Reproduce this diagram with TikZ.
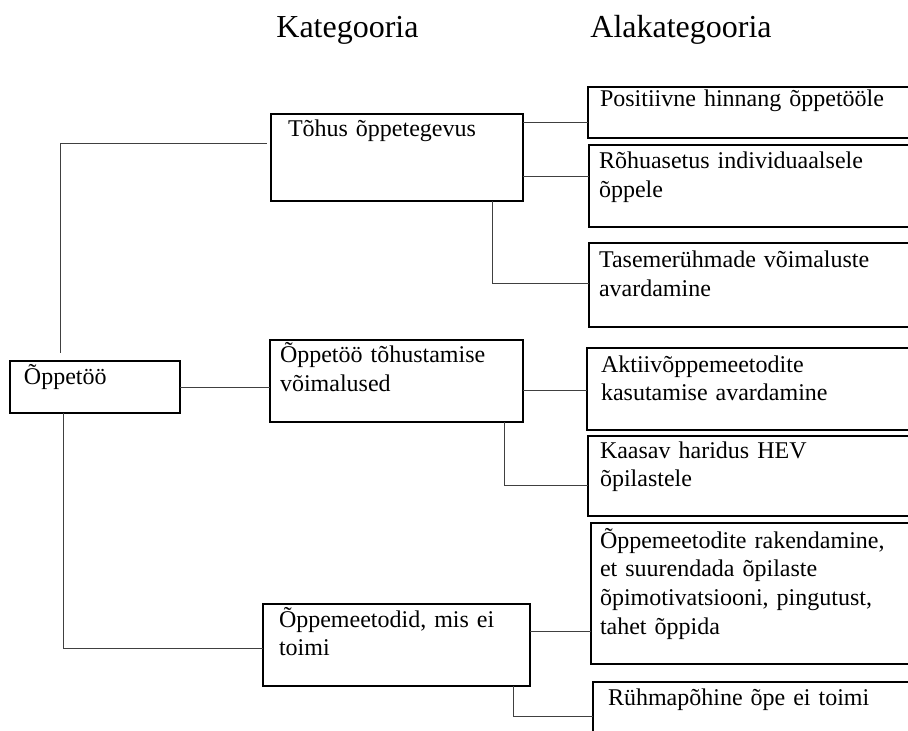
\documentclass[tikz,border=0pt]{standalone}
\usepackage{fontspec}
\setmainfont{Liberation Serif}
\usetikzlibrary{calc}
\begin{document}
\begin{tikzpicture}[x=0.5pt,y=-0.5pt,
  box/.style={draw=black, line width=0.75pt, anchor=north west, inner sep=0pt, outer sep=0pt},
  txt/.style={anchor=base west, inner sep=0pt, outer sep=0pt, align=left,
    text width=170pt, font=\fontsize{12}{14.4}\selectfont},
  head/.style={anchor=base west, inner sep=0pt, font=\fontsize{16}{19}\selectfont},
  conn/.style={draw=black!75, line width=0.5pt}]
\useasboundingbox (0,0) rectangle (908,731);
\clip (0,0) rectangle (908,731);
\fill[white] (0,0) rectangle (908,731);

% column headings
\node[head] (kat)  at (276,38) {Kategooria};
\node[head] (alak) at (590,38) {Alakategooria};

% root
\node[box, minimum width=85pt, minimum height=26pt] (A) at (10,361) {};
\node[txt] (At) at ($(A.north west)+(14,24)$) {Õppetöö};

% categories
\node[box, minimum width=126pt, minimum height=43.5pt] (B1) at (271,114) {};
\node[txt] (B1t) at ($(B1.north west)+(17,23)$) {Tõhus õppetegevus};
\node[box, minimum width=126.5pt, minimum height=41pt] (B2) at (270,340) {};
\node[txt] (B2t) at ($(B2.north west)+(10,23)$) {Õppetöö tõhustamise\\võimalused};
\node[box, minimum width=133.5pt, minimum height=41pt] (B3) at (263,604) {};
\node[txt] (B3t) at ($(B3.north west)+(16,23)$) {Õppemeetodid, mis ei\\toimi};

% subcategories (running past the right edge)
\node[box, minimum width=166pt, minimum height=25.5pt] (C1) at (588,87) {};
\node[txt] (C1t) at ($(C1.north west)+(12,20)$) {Positiivne hinnang õppetööle};
\node[box, minimum width=165.5pt, minimum height=41pt] (C2) at (589,145) {};
\node[txt] (C2t) at ($(C2.north west)+(10,24)$) {Rõhuasetus individuaalsele\\õppele};
\node[box, minimum width=165.5pt, minimum height=42pt] (C3) at (589,243) {};
\node[txt] (C3t) at ($(C3.north west)+(10,25)$) {Tasemerühmade võimaluste\\avardamine};
\node[box, minimum width=166.5pt, minimum height=41pt] (C4) at (587,348) {};
\node[txt] (C4t) at ($(C4.north west)+(14,24)$) {Aktiivõppemeetodite\\kasutamise avardamine};
\node[box, minimum width=166pt, minimum height=40pt] (C5) at (588,436) {};
\node[txt] (C5t) at ($(C5.north west)+(12,22)$) {Kaasav haridus HEV\\õpilastele};
\node[box, minimum width=164.5pt, minimum height=70.5pt] (C6) at (591,523) {};
\node[txt] (C6t) at ($(C6.north west)+(9,25)$) {Õppemeetodite rakendamine,\\et suurendada õpilaste\\õpimotivatsiooni, pingutust,\\tahet õppida};
\node[box, minimum width=163.5pt, minimum height=39pt] (C7) at (593,682) {};
\node[txt] (C7t) at ($(C7.north west)+(15,23)$) {Rühmapõhine õpe ei toimi};

% connectors
\coordinate (a1) at (60,353);
\coordinate (b1in) at (267,144);
\draw[conn] (a1) |- (b1in);
\draw[conn] (A.east) -- (A.east -| B2.west);
\draw[conn] (A.south -| 63,0) |- (B3.west |- 0,648);
\draw[conn] (B1.east |- 0,123) -- (C1.west |- 0,123);
\draw[conn] (B1.east |- 0,177) -- (C2.west |- 0,177);
\draw[conn] (B1.south -| 492,0) |- (C3.west |- 0,284);
\draw[conn] (B2.east |- 0,390) -- (C4.west |- 0,390);
\draw[conn] (B2.south -| 504,0) |- (C5.west |- 0,485);
\draw[conn] (B3.east |- 0,631) -- (C6.west |- 0,631);
\draw[conn] (B3.south -| 513,0) |- (C7.west |- 0,716);
\end{tikzpicture}
\end{document}
